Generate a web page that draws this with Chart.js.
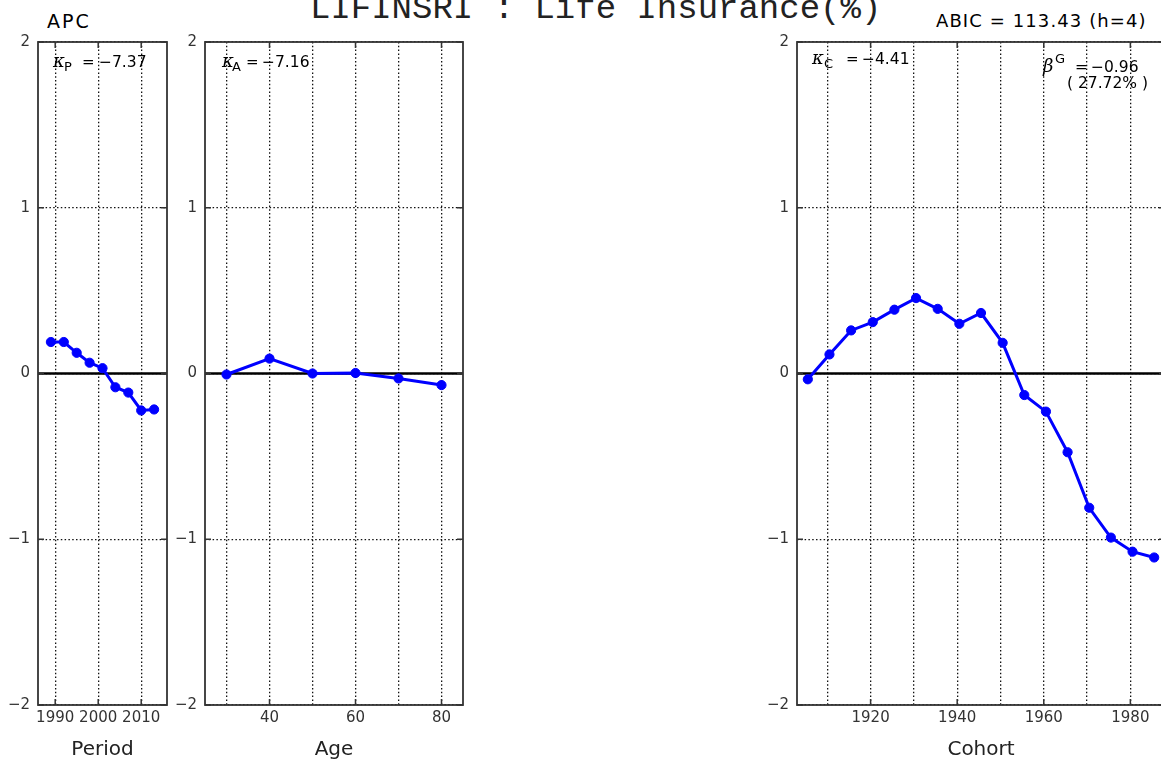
<!DOCTYPE html>
<html>
<head>
<meta charset="utf-8">
<script src="https://cdn.jsdelivr.net/npm/chart.js@4.4.0/dist/chart.umd.min.js"></script>
<style>
  html, body { margin: 0; padding: 0; background: #fff; width: 1161px; height: 762px; overflow: hidden; }
  canvas { position: absolute; top: 0; }
  .txt { position: absolute; white-space: nowrap; color: #000; }
  #title { left: 310px; top: -8px; font: 34px "Liberation Mono", monospace; line-height: 34px; color: #222; }
  #apc { left: 47px; top: 12px; font: 19px "DejaVu Sans", sans-serif; line-height: 19px; letter-spacing: 2px; }
  #abic { left: 936px; top: 12px; font: 18px "DejaVu Sans", sans-serif; line-height: 18px; letter-spacing: 1.1px; }
</style>
</head>
<body>
<div id="title" class="txt">LIFINSRI : Life Insurance(%)</div>
<div id="apc" class="txt">APC</div>
<div id="abic" class="txt">ABIC = 113.43 (h=4)</div>
<canvas id="period" width="180" height="762" style="left:0px"></canvas>
<canvas id="age" width="305" height="762" style="left:170px"></canvas>
<canvas id="cohort" width="425" height="762" style="left:757px"></canvas>
<script>
// ---- data ----
const PERIOD_X = [1989, 1992, 1995, 1998, 2001, 2004, 2007, 2010, 2013];
const PERIOD_Y = [0.19, 0.19, 0.125, 0.065, 0.032, -0.083, -0.115, -0.223, -0.217];

const AGE_X = [30, 40, 50, 60, 70, 80];
const AGE_Y = [-0.006, 0.09, 0.0, 0.003, -0.03, -0.07];

const COHORT_X = [1905.5, 1910.5, 1915.5, 1920.5, 1925.5, 1930.5, 1935.5, 1940.5, 1945.5,
                  1950.5, 1955.5, 1960.5, 1965.5, 1970.5, 1975.5, 1980.5, 1985.5];
const COHORT_Y = [-0.035, 0.115, 0.26, 0.31, 0.385, 0.455, 0.39, 0.30, 0.365,
                  0.185, -0.13, -0.23, -0.475, -0.81, -0.99, -1.075, -1.11];

// axis ranges and ticks
const Y_RANGE = [-2, 2];
const Y_TICKS = [-2, -1, 0, 1, 2];
const PERIOD_RANGE = [1986, 2016];
const PERIOD_TICKS = [1990, 2000, 2010];
const PERIOD_LABELS = ["1990", "2000", "2010"];
const AGE_RANGE = [25, 85];
const AGE_TICKS = [30, 40, 50, 60, 70, 80];
const AGE_LABELS = ["", "40", "", "60", "", "80"];
const COHORT_RANGE = [1903, 1988];
const COHORT_TICKS = [1910, 1920, 1930, 1940, 1950, 1960, 1970, 1980];
const COHORT_LABELS = ["", "1920", "", "1940", "", "1960", "", "1980"];

const SANS = "'DejaVu Sans', sans-serif";
const LINE_BLUE = "#0000ff";

function fmtY(v) {
  return v < 0 ? "\u2212" + (-v) : String(v);
}

// frame around the plot area plus short inward ticks
const framePlugin = {
  id: "frame",
  afterDatasetsDraw(chart) {
    const { ctx, chartArea: a, scales } = chart;
    ctx.save();
    ctx.strokeStyle = "#333";
    ctx.lineWidth = 1.8;
    ctx.strokeRect(a.left, a.top, a.right - a.left, a.bottom - a.top);
    ctx.lineWidth = 1.5;
    ctx.beginPath();
    scales.y.ticks.forEach((t) => {
      const y = scales.y.getPixelForValue(t.value);
      ctx.moveTo(a.left, y); ctx.lineTo(a.left + 6, y);
      ctx.moveTo(a.right - 6, y); ctx.lineTo(a.right, y);
    });
    const labels = chart.options.plugins.frame.xLabels;
    scales.x.ticks.forEach((t, i) => {
      if (!labels[i]) return;
      const x = scales.x.getPixelForValue(t.value);
      ctx.moveTo(x, a.bottom); ctx.lineTo(x, a.bottom - 6);
      ctx.moveTo(x, a.top); ctx.lineTo(x, a.top + 6);
    });
    ctx.stroke();
    ctx.restore();
  },
};

// kappa / beta notes in the upper part of each panel
const notePlugin = {
  id: "notes",
  afterDraw(chart) {
    const { ctx, chartArea: a } = chart;
    const notes = chart.options.plugins.notes.items || [];
    ctx.save();
    ctx.fillStyle = "#000";
    ctx.textBaseline = "alphabetic";
    notes.forEach((n) => {
      const x = a.left + n.dx;
      ctx.font = "italic 18px 'DejaVu Serif', serif";
      ctx.fillText(n.sym, x, n.y);
      ctx.font = "13px " + SANS;
      if (n.sup) ctx.fillText(n.sup, x + n.supDx, n.y - 9);
      if (n.sub) ctx.fillText(n.sub, x + n.supDx, n.y + 4);
      ctx.font = "15px " + SANS;
      ctx.fillText("=", x + n.eqDx, n.y);
      ctx.font = "15.5px " + SANS;
      ctx.fillText(n.value, x + n.valDx, n.y);
      if (n.line2) ctx.fillText(n.line2, x + n.line2Dx, n.y + 16);
    });
    ctx.restore();
  },
};

function makePanel(id, opt) {
  const series = opt.xs.map((x, i) => ({ x, y: opt.ys[i] }));
  const zero = [{ x: opt.xRange[0], y: 0 }, { x: opt.xRange[1], y: 0 }];
  const grid = { color: "#111", lineWidth: 1.3, drawTicks: false };
  const border = { display: false, dash: [1.5, 2.3] };

  new Chart(document.getElementById(id), {
    type: "line",
    data: {
      datasets: [
        {
          data: series,
          borderColor: LINE_BLUE,
          backgroundColor: LINE_BLUE,
          borderWidth: 3,
          pointRadius: 4.6,
          pointBackgroundColor: LINE_BLUE,
          pointBorderColor: LINE_BLUE,
          pointBorderWidth: 1,
          tension: 0,
        },
        {
          data: zero,
          borderColor: "#000",
          borderWidth: 2.4,
          pointRadius: 0,
        },
      ],
    },
    options: {
      responsive: false,
      animation: false,
      layout: { padding: { top: 42, right: opt.padRight, left: 0, bottom: 0 } },
      plugins: {
        legend: { display: false },
        tooltip: { enabled: false },
        frame: { xLabels: opt.xLabels },
        notes: { items: opt.notes },
      },
      scales: {
        x: {
          type: "linear",
          min: opt.xRange[0],
          max: opt.xRange[1],
          afterBuildTicks: (s) => { s.ticks = opt.xTicks.map((v) => ({ value: v })); },
          afterFit: (s) => { s.height = 57; },
          grid,
          border,
          ticks: {
            autoSkip: false,
            maxRotation: 0,
            padding: 4,
            color: "#333",
            font: { family: SANS, size: 15 },
            callback: (v, i) => opt.xLabels[i],
          },
          title: {
            display: true,
            text: opt.title,
            color: "#222",
            font: { family: SANS, size: 20, lineHeight: 1.2 },
            padding: { top: 0, bottom: 0 },
          },
        },
        y: {
          min: Y_RANGE[0],
          max: Y_RANGE[1],
          afterBuildTicks: (s) => { s.ticks = Y_TICKS.map((v) => ({ value: v })); },
          afterFit: (s) => { s.width = opt.yWidth; },
          grid,
          border,
          ticks: {
            padding: 8,
            color: "#333",
            font: { family: SANS, size: 15 },
            callback: (v) => fmtY(v),
          },
        },
      },
    },
    plugins: [framePlugin, notePlugin],
  });
}

makePanel("period", {
  xs: PERIOD_X, ys: PERIOD_Y, xRange: PERIOD_RANGE,
  xTicks: PERIOD_TICKS, xLabels: PERIOD_LABELS, title: "Period",
  yWidth: 38, padRight: 13,
  notes: [{ dx: 15, y: 67, sym: "\u03ba", sub: "P", supDx: 11, eqDx: 29, valDx: 46, value: "\u22127.37" }],
});

makePanel("age", {
  xs: AGE_X, ys: AGE_Y, xRange: AGE_RANGE,
  xTicks: AGE_TICKS, xLabels: AGE_LABELS, title: "Age",
  yWidth: 35, padRight: 12,
  notes: [{ dx: 17, y: 67, sym: "\u03ba", sub: "A", supDx: 10, eqDx: 24, valDx: 40, value: "\u22127.16" }],
});

makePanel("cohort", {
  xs: COHORT_X, ys: COHORT_Y, xRange: COHORT_RANGE,
  xTicks: COHORT_TICKS, xLabels: COHORT_LABELS, title: "Cohort",
  yWidth: 40, padRight: 17,
  notes: [
    { dx: 15, y: 64, sym: "\u03ba", sub: "C", supDx: 12, eqDx: 34, valDx: 50, value: "\u22124.41" },
    { dx: 246, y: 72, sym: "\u03b2", sup: "G", supDx: 12, eqDx: 32, valDx: 48, value: "\u22120.96",
      line2: "( 27.72% )", line2Dx: 24 },
  ],
});
</script>
</body>
</html>
